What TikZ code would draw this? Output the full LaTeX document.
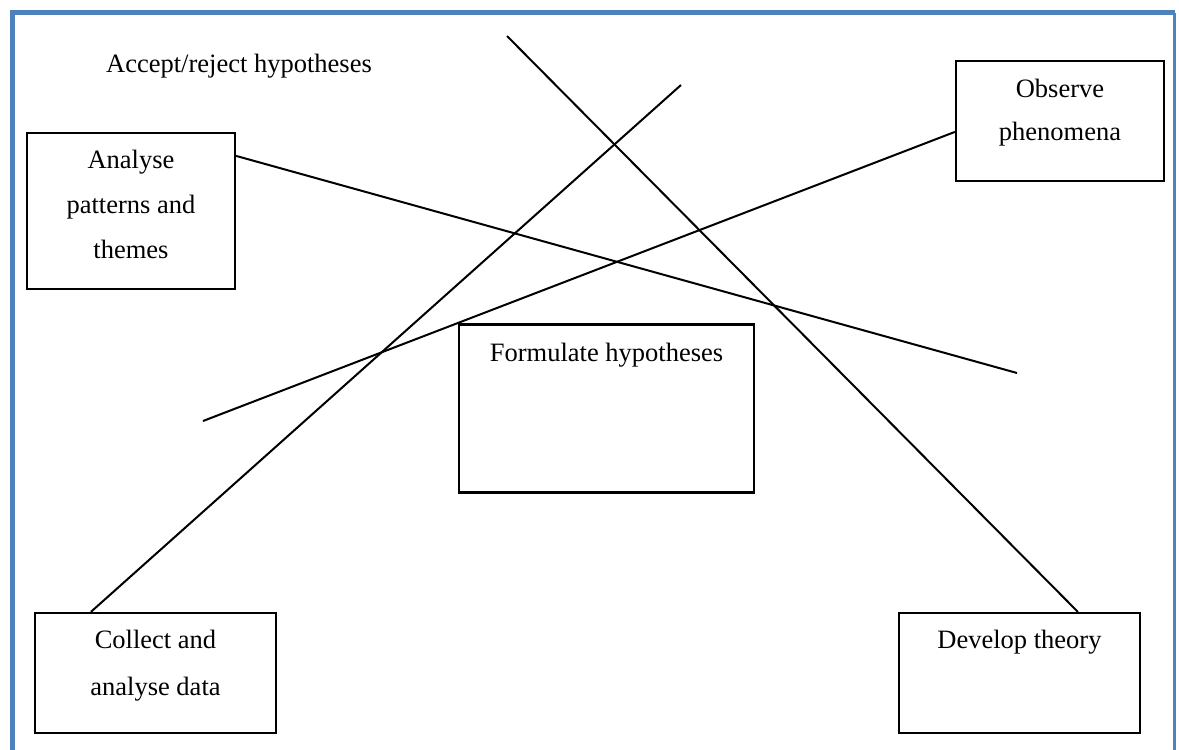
\documentclass[tikz,border=0pt]{standalone}
\usepackage{fontspec}
\setmainfont{Liberation Serif}
\definecolor{frameblue}{HTML}{4F81BD}
\begin{document}
\begin{tikzpicture}[x=1pt,y=-1pt,
  stagebox/.style={draw=black,line width=2.2pt,inner sep=0pt,fill=none},
  caption/.style={anchor=base,inner sep=0pt,font=\fontsize{26.5}{30}\selectfont},
  link/.style={draw=black,line width=2pt}]
\useasboundingbox (0,0) rectangle (1179,750);
\fill[white] (0,0) rectangle (1179,750);

% page frame (open at the bottom)
\draw[frameblue,line width=5pt] (12,750) -- (12,12.5) -- (1174.5,12.5);
\draw[frameblue,line width=2.5pt] (1174.5,12.5) -- (1174.5,750);

% boxes
\node[stagebox,minimum width=208pt,minimum height=156pt] (analyse) at (131,211) {};
\node[stagebox,minimum width=208pt,minimum height=120pt] (observe) at (1060,121) {};
\node[stagebox,minimum width=295pt,minimum height=168pt] (formulate) at (606.5,408.5) {};
\node[stagebox,minimum width=241pt,minimum height=120pt] (collect) at (155.5,673) {};
\node[stagebox,minimum width=241pt,minimum height=120pt] (develop) at (1019.5,673) {};

% texts
\node[caption,anchor=base west] (accept) at (106,72) {Accept/reject hypotheses};
\node[caption] (an1) at (131,168) {Analyse};
\node[caption] (an2) at (131,213) {patterns and};
\node[caption] (an3) at (131,258) {themes};
\node[caption] (ob1) at (1060,97) {Observe};
\node[caption] (ob2) at (1060,140) {phenomena};
\node[caption] (fo1) at (606.5,361) {Formulate hypotheses};
\node[caption] (co1) at (155.5,648) {Collect and};
\node[caption] (co2) at (155.5,695) {analyse data};
\node[caption] (de1) at (1019.5,648) {Develop theory};

% free ends of the crossing lines
\coordinate (topA) at (507,36);
\coordinate (topB) at (681,85);
\coordinate (endC) at (1017,373);
\coordinate (endD) at (203,421);

% crossing lines (yshift is in page units, so negative moves down)
\draw[link] (topA) -- ([xshift=180pt]develop.north west);
\draw[link] (topB) -- ([xshift=57pt]collect.north west);
\draw[link] ([yshift=-24pt]analyse.north east) -- (endC);
\draw[link] ([yshift=-72pt]observe.north west) -- (endD);
\end{tikzpicture}
\end{document}
